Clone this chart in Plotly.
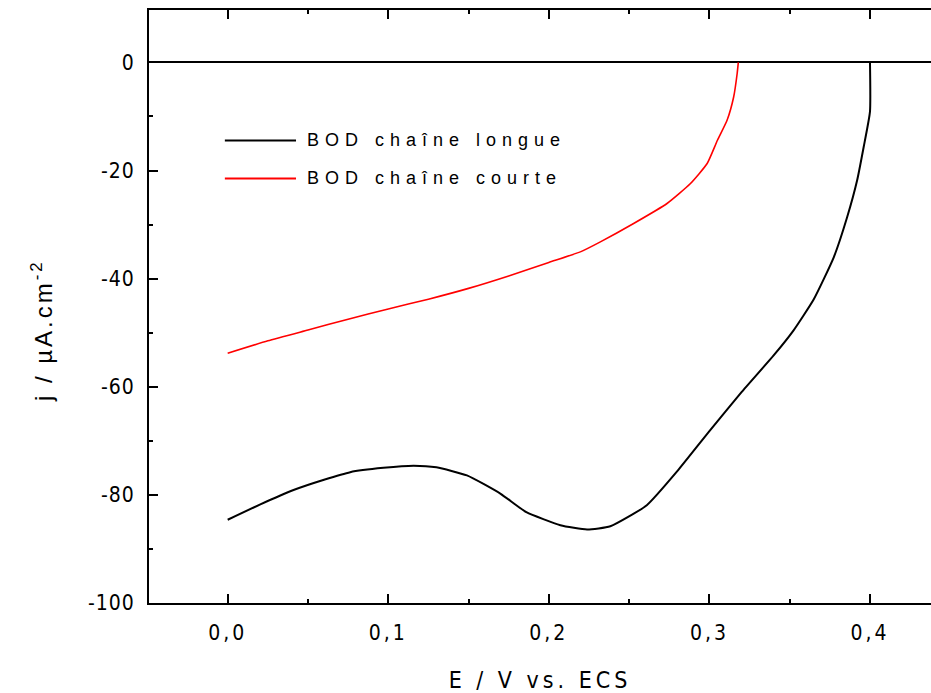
import plotly.graph_objects as go

# BOD chaîne longue (black)
e_longue = [0.0, 0.02, 0.041, 0.06, 0.0763, 0.097, 0.1158, 0.13, 0.149, 0.17, 0.186,
            0.2072, 0.2238, 0.2383, 0.261, 0.28, 0.30, 0.32, 0.34, 0.3523, 0.365,
            0.3775, 0.3858, 0.392, 0.3961, 0.4, 0.4]
j_longue = [-84.6, -81.8, -79.1, -77.2, -75.8, -75.0, -74.6, -74.9, -76.4, -79.8, -83.2,
            -85.6, -86.4, -85.8, -81.9, -75.6, -68.2, -61.0, -54.2, -49.6, -43.8,
            -36.0, -28.6, -21.8, -15.6, -9.1, 0.0]

# BOD chaîne courte (red)
e_courte = [0.0, 0.025, 0.05, 0.075, 0.1, 0.125, 0.15, 0.175, 0.2, 0.22, 0.2321,
            0.2528, 0.2736, 0.2882, 0.2986, 0.305, 0.311, 0.3151, 0.3173, 0.318]
j_courte = [-53.8, -51.5, -49.5, -47.5, -45.6, -43.8, -41.8, -39.5, -37.0, -35.0, -33.2,
            -29.8, -26.1, -22.4, -18.7, -14.4, -10.7, -6.4, -2.0, 0.0]

series_names = ["BOD chaîne longue", "BOD chaîne courte"]
series_colors = ["black", "red"]

y_ticks = [0, -20, -40, -60, -80, -100]
y_ticktext = ["0", "-20", "-40", "-60", "-80", "-100"]
x_ticks = [0.0, 0.1, 0.2, 0.3, 0.4]
x_ticktext = ["0,0", "0,1", "0,2", "0,3", "0,4"]


def spaced(txt, px):
    return '<span style="letter-spacing:%spx">%s</span>' % (px, txt)


NARROW = "Liberation Sans Narrow, DejaVu Sans Condensed, Arial Narrow, sans-serif"

fig = go.Figure()
fig.add_trace(go.Scatter(x=e_longue, y=j_longue, mode="lines", name=series_names[0],
                         line=dict(color=series_colors[0], width=2,
                                   shape="spline", smoothing=0.5)))
fig.add_trace(go.Scatter(x=e_courte, y=j_courte, mode="lines", name=series_names[1],
                         line=dict(color=series_colors[1], width=1.6,
                                   shape="spline", smoothing=0.5)))

# hand-made legend with long line swatches
for i, (name, col) in enumerate(zip(series_names, series_colors)):
    yy = 0.78 - i * 0.064
    fig.add_shape(type="line", xref="paper", yref="paper", x0=0.097, x1=0.188,
                  y0=yy, y1=yy, line=dict(color=col, width=2))
    fig.add_annotation(xref="paper", yref="paper", x=0.2, y=yy, text=spaced(name, 6),
                       showarrow=False, xanchor="left", yanchor="middle",
                       font=dict(family="Liberation Sans, Arial", size=18, color="black"))

# y axis title, placed a bit below the plot middle as in the original
fig.add_annotation(xref="paper", yref="paper", x=-0.137, y=0.46, textangle=-90,
                   text=spaced("j / µA.cm<sup>-2</sup>", 3), showarrow=False,
                   xanchor="center", yanchor="middle",
                   font=dict(family="Liberation Sans, Arial", size=24, color="black"))

tickfont = dict(family=NARROW, size=21, color="black")
titlefont = dict(family=NARROW, size=23, color="black")

fig.update_xaxes(range=[-0.049, 0.438], tickvals=x_ticks,
                 ticktext=[spaced(t, 3) for t in x_ticktext],
                 ticks="inside", ticklen=9, tickwidth=2, tickcolor="black",
                 minor=dict(ticks="inside", ticklen=4, tickwidth=2, dtick=0.05,
                            tickcolor="black"),
                 showline=True, linecolor="black", linewidth=2, mirror="ticks",
                 showgrid=False, zeroline=False, tickfont=tickfont,
                 ticklabelstandoff=10,
                 title=dict(text=spaced("E / V vs. ECS", 4), standoff=28, font=titlefont))
fig.update_yaxes(range=[-100, 9.7], tickvals=y_ticks,
                 ticktext=[spaced(t, 1) for t in y_ticktext],
                 ticks="inside", ticklen=9, tickwidth=2, tickcolor="black",
                 minor=dict(ticks="inside", ticklen=4, tickwidth=2,
                            tickvals=[-10, -30, -50, -70, -90], tickcolor="black"),
                 showline=True, linecolor="black", linewidth=2, mirror=False,
                 showgrid=False, zeroline=True, zerolinecolor="black", zerolinewidth=2,
                 tickfont=tickfont, ticklabelstandoff=8)

fig.update_layout(width=931, height=693, showlegend=False,
                  margin=dict(l=149, r=0, t=10, b=90),
                  plot_bgcolor="white", paper_bgcolor="white")

fig.write_html("out.html", config={"displayModeBar": False},
               post_script="document.body.style.margin='0';"
                           "document.body.style.overflow='hidden';")
